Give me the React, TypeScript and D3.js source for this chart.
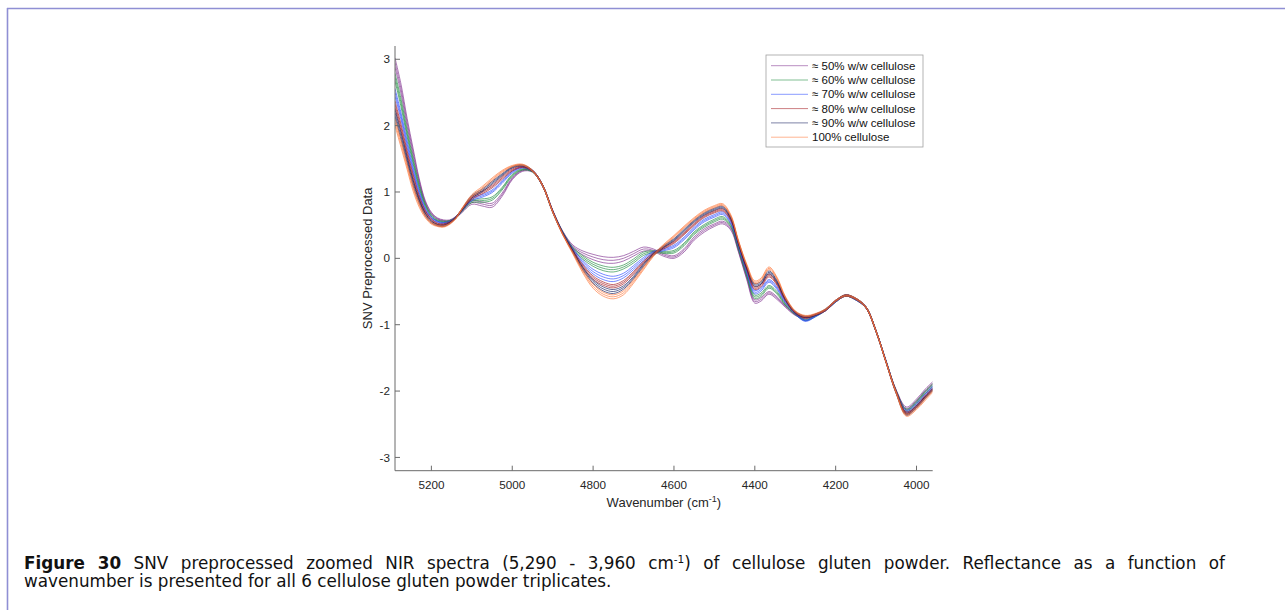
import React, { useLayoutEffect, useRef, useState } from 'react';
import * as d3 from 'd3';

const WAVENUMBERS = [5290, 5275, 5260, 5245, 5230, 5215, 5200, 5185, 5170, 5155,
  5140, 5125, 5100, 5075, 5050, 5025, 5000, 4975, 4950, 4925,
  4900, 4875, 4850, 4825, 4800, 4775, 4750, 4725, 4700, 4675,
  4650, 4625, 4600, 4575, 4550, 4525, 4500, 4480, 4460, 4440,
  4420, 4400, 4385, 4365, 4345, 4325, 4300, 4275, 4250, 4225,
  4200, 4175, 4150, 4125, 4100, 4075, 4050, 4025, 4000, 3980, 3960];

const MEAN_50 = [2.95, 2.55, 2.05, 1.6, 1.17, 0.85, 0.68, 0.60, 0.57, 0.57,
  0.62, 0.70, 0.84, 0.82, 0.80, 0.96, 1.20, 1.32, 1.31, 1.10,
  0.72, 0.40, 0.18, 0.08, 0.02, -0.02, -0.03, 0.00, 0.07, 0.14,
  0.12, 0.05, 0.02, 0.12, 0.30, 0.42, 0.50, 0.54, 0.45, 0.10,
  -0.30, -0.65, -0.62, -0.52, -0.60, -0.72, -0.85, -0.90, -0.85, -0.78,
  -0.65, -0.56, -0.62, -0.74, -1.10, -1.56, -2.00, -2.26, -2.14, -2.00, -1.88];
const MEAN_60 = [2.73, 2.34, 1.88, 1.46, 1.08, 0.80, 0.64, 0.57, 0.55, 0.56,
  0.61, 0.71, 0.86, 0.87, 0.90, 1.05, 1.25, 1.34, 1.31, 1.10,
  0.71, 0.39, 0.15, 0.01, -0.09, -0.15, -0.17, -0.13, -0.04, 0.07,
  0.10, 0.09, 0.10, 0.21, 0.38, 0.49, 0.57, 0.61, 0.50, 0.14,
  -0.25, -0.58, -0.55, -0.43, -0.52, -0.69, -0.84, -0.93, -0.87, -0.78,
  -0.65, -0.56, -0.62, -0.74, -1.10, -1.56, -2.01, -2.29, -2.17, -2.03, -1.91];
const MEAN_70 = [2.50, 2.14, 1.72, 1.33, 0.99, 0.74, 0.61, 0.55, 0.53, 0.55,
  0.61, 0.72, 0.89, 0.94, 1.01, 1.15, 1.30, 1.37, 1.32, 1.10,
  0.71, 0.38, 0.13, -0.06, -0.20, -0.28, -0.31, -0.26, -0.14, -0.01,
  0.09, 0.13, 0.18, 0.30, 0.45, 0.57, 0.64, 0.68, 0.55, 0.18,
  -0.20, -0.51, -0.47, -0.34, -0.45, -0.65, -0.83, -0.94, -0.87, -0.78,
  -0.65, -0.56, -0.62, -0.74, -1.10, -1.56, -2.02, -2.31, -2.20, -2.07, -1.94];
const MEAN_80 = [2.32, 1.97, 1.58, 1.22, 0.91, 0.70, 0.58, 0.52, 0.51, 0.54,
  0.61, 0.73, 0.91, 0.99, 1.08, 1.21, 1.33, 1.38, 1.32, 1.10,
  0.71, 0.37, 0.11, -0.12, -0.29, -0.38, -0.42, -0.36, -0.22, -0.06,
  0.07, 0.16, 0.24, 0.37, 0.51, 0.63, 0.70, 0.73, 0.59, 0.21,
  -0.16, -0.45, -0.41, -0.26, -0.39, -0.62, -0.82, -0.89, -0.85, -0.78,
  -0.64, -0.56, -0.61, -0.74, -1.10, -1.57, -2.02, -2.33, -2.23, -2.09, -1.97];
const MEAN_90 = [2.19, 1.84, 1.48, 1.13, 0.86, 0.66, 0.55, 0.50, 0.49, 0.53,
  0.61, 0.73, 0.93, 1.02, 1.14, 1.26, 1.37, 1.40, 1.32, 1.10,
  0.70, 0.37, 0.10, -0.16, -0.35, -0.46, -0.50, -0.44, -0.29, -0.10,
  0.06, 0.18, 0.28, 0.42, 0.56, 0.67, 0.74, 0.77, 0.62, 0.23,
  -0.13, -0.40, -0.37, -0.21, -0.35, -0.60, -0.81, -0.88, -0.85, -0.77,
  -0.64, -0.56, -0.61, -0.74, -1.10, -1.57, -2.03, -2.35, -2.24, -2.11, -1.98];
const MEAN_100 = [2.05, 1.72, 1.38, 1.05, 0.80, 0.63, 0.53, 0.49, 0.48, 0.52,
  0.60, 0.74, 0.94, 1.06, 1.19, 1.31, 1.39, 1.41, 1.32, 1.10,
  0.70, 0.36, 0.08, -0.20, -0.42, -0.54, -0.58, -0.52, -0.35, -0.15,
  0.05, 0.20, 0.33, 0.47, 0.60, 0.71, 0.78, 0.81, 0.65, 0.25,
  -0.10, -0.36, -0.32, -0.15, -0.30, -0.58, -0.80, -0.87, -0.84, -0.77,
  -0.64, -0.56, -0.61, -0.74, -1.10, -1.57, -2.03, -2.36, -2.26, -2.13, -2.00];

// half range of the triplicates at each wavenumber
const SPREAD_50 = [0.07, 0.07, 0.06, 0.05, 0.03, 0.02, 0.015, 0.01, 0.01, 0.01,
  0.01, 0.015, 0.025, 0.03, 0.03, 0.025, 0.015, 0.01, 0.01, 0.01,
  0.01, 0.01, 0.02, 0.03, 0.04, 0.045, 0.045, 0.04, 0.035, 0.03,
  0.02, 0.02, 0.02, 0.025, 0.025, 0.025, 0.02, 0.02, 0.02, 0.015,
  0.02, 0.025, 0.025, 0.02, 0.02, 0.015, 0.01, 0.01, 0.01, 0.01,
  0.01, 0.01, 0.01, 0.01, 0.01, 0.01, 0.015, 0.02, 0.02, 0.02, 0.02];
const SPREAD_60 = [0.06, 0.06, 0.05, 0.04, 0.03, 0.02, 0.015, 0.01, 0.01, 0.01,
  0.01, 0.01, 0.02, 0.025, 0.025, 0.02, 0.015, 0.01, 0.01, 0.01,
  0.01, 0.01, 0.015, 0.025, 0.03, 0.035, 0.035, 0.03, 0.03, 0.025,
  0.015, 0.015, 0.02, 0.02, 0.02, 0.02, 0.02, 0.02, 0.02, 0.015,
  0.02, 0.025, 0.025, 0.02, 0.02, 0.015, 0.01, 0.01, 0.01, 0.01,
  0.01, 0.01, 0.01, 0.01, 0.01, 0.01, 0.015, 0.02, 0.02, 0.02, 0.02];
const SPREAD_70 = [0.06, 0.05, 0.05, 0.04, 0.03, 0.02, 0.015, 0.01, 0.01, 0.01,
  0.01, 0.01, 0.02, 0.02, 0.02, 0.02, 0.015, 0.01, 0.01, 0.01,
  0.01, 0.01, 0.015, 0.025, 0.035, 0.04, 0.04, 0.035, 0.03, 0.025,
  0.015, 0.015, 0.02, 0.02, 0.02, 0.02, 0.02, 0.02, 0.02, 0.015,
  0.02, 0.025, 0.025, 0.02, 0.02, 0.015, 0.01, 0.01, 0.01, 0.01,
  0.01, 0.01, 0.01, 0.01, 0.01, 0.01, 0.015, 0.02, 0.02, 0.02, 0.02];
const SPREAD_80 = [0.05, 0.05, 0.04, 0.04, 0.03, 0.02, 0.015, 0.01, 0.01, 0.01,
  0.01, 0.01, 0.02, 0.02, 0.02, 0.02, 0.015, 0.01, 0.01, 0.01,
  0.01, 0.01, 0.015, 0.02, 0.025, 0.025, 0.025, 0.025, 0.02, 0.02,
  0.015, 0.015, 0.015, 0.015, 0.015, 0.015, 0.015, 0.015, 0.015, 0.015,
  0.015, 0.02, 0.02, 0.02, 0.015, 0.015, 0.01, 0.01, 0.01, 0.01,
  0.01, 0.01, 0.01, 0.01, 0.01, 0.01, 0.015, 0.015, 0.015, 0.015, 0.015];
const SPREAD_90 = [0.05, 0.05, 0.04, 0.04, 0.03, 0.02, 0.015, 0.01, 0.01, 0.01,
  0.01, 0.01, 0.02, 0.02, 0.02, 0.015, 0.01, 0.01, 0.01, 0.01,
  0.01, 0.01, 0.015, 0.02, 0.025, 0.03, 0.03, 0.025, 0.02, 0.02,
  0.015, 0.015, 0.015, 0.015, 0.015, 0.015, 0.015, 0.015, 0.015, 0.015,
  0.015, 0.02, 0.02, 0.02, 0.015, 0.015, 0.01, 0.01, 0.01, 0.01,
  0.01, 0.01, 0.01, 0.01, 0.01, 0.01, 0.015, 0.015, 0.015, 0.015, 0.015];
const SPREAD_100 = [0.05, 0.05, 0.04, 0.04, 0.03, 0.02, 0.015, 0.01, 0.01, 0.01,
  0.01, 0.01, 0.02, 0.02, 0.02, 0.015, 0.01, 0.01, 0.01, 0.01,
  0.01, 0.01, 0.015, 0.025, 0.03, 0.03, 0.03, 0.03, 0.025, 0.02,
  0.015, 0.015, 0.015, 0.015, 0.015, 0.015, 0.015, 0.015, 0.015, 0.015,
  0.015, 0.02, 0.02, 0.02, 0.015, 0.015, 0.01, 0.01, 0.01, 0.01,
  0.01, 0.01, 0.01, 0.01, 0.01, 0.01, 0.015, 0.02, 0.02, 0.02, 0.02];

const GROUP_LABELS = ['\u2248 50% w/w cellulose', '\u2248 60% w/w cellulose', '\u2248 70% w/w cellulose',
  '\u2248 80% w/w cellulose', '\u2248 90% w/w cellulose', '100% cellulose'];
const GROUP_MEANS = [MEAN_50, MEAN_60, MEAN_70, MEAN_80, MEAN_90, MEAN_100];
const GROUP_SPREADS = [SPREAD_50, SPREAD_60, SPREAD_70, SPREAD_80, SPREAD_90, SPREAD_100];
const GROUP_COLORS = ['#7E2F8E', '#1C8A3C', '#2A48FF', '#A3161C', '#141E5C', '#FF7636'];
const REPLICATES = [1, 0, -1];

const X_TICKS = [5200, 5000, 4800, 4600, 4400, 4200, 4000];
const Y_TICKS = [-3, -2, -1, 0, 1, 2, 3];

const AXIS_FONT = '"Liberation Sans", Arial, Helvetica, sans-serif';
const CAPTION_FONT = '"DejaVu Sans", sans-serif';
const CAPTION_LINE1_WIDTH = 1202;
const CAPTION_LINE1_SPACES = 19;

export default function App() {
  const left = 395, right = 932.7, top = 46, bottom = 470.7;
  const x = d3.scaleLinear().domain([5290, 3960]).range([left, right]);
  const y = d3.scaleLinear().domain([-3.2, 3.2]).range([bottom, top]);
  const line = d3.line<[number, number]>()
    .x(d => x(d[0]))
    .y(d => y(d[1]))
    .curve(d3.curveCatmullRom.alpha(0.5));

  const line1Ref = useRef<SVGTextElement>(null);
  const [wordSpacing, setWordSpacing] = useState(0);
  useLayoutEffect(() => {
    const el = line1Ref.current;
    if (el && wordSpacing === 0) {
      const w = el.getBBox().width;
      const ws = (CAPTION_LINE1_WIDTH - w) / CAPTION_LINE1_SPACES;
      if (ws > 0) setWordSpacing(ws);
    }
  }, [wordSpacing]);

  const paths: { d: string; color: string; key: string }[] = [];
  GROUP_MEANS.forEach((means, g) => {
    REPLICATES.forEach((r, k) => {
      const pts = WAVENUMBERS.map((w, i) => [w, means[i] + r * GROUP_SPREADS[g][i]] as [number, number]);
      paths.push({ d: line(pts) || '', color: GROUP_COLORS[g], key: `${g}-${k}` });
    });
  });

  const legendX = 766, legendY = 55, legendW = 157, legendH = 92;

  return (
    <svg width={1285} height={610} style={{ position: 'absolute', left: 0, top: 0, background: '#fff' }}>
      <rect x={0} y={0} width={1285} height={610} fill="#fff" />
      <line x1={7} y1={8.5} x2={1285} y2={8.5} stroke="#8f8fd4" strokeWidth={1.6} />
      <line x1={7.5} y1={8} x2={7.5} y2={610} stroke="#8f8fd4" strokeWidth={1.6} />

      <defs>
        <clipPath id="plotclip">
          <rect x={left} y={top} width={right - left} height={bottom - top} />
        </clipPath>
      </defs>

      <g clipPath="url(#plotclip)">
        {paths.map(p => (
          <path key={p.key} d={p.d} fill="none" stroke={p.color} strokeWidth={0.9} strokeOpacity={0.72} />
        ))}
      </g>

      <line x1={left} y1={bottom} x2={right} y2={bottom} stroke="#6b6b6b" strokeWidth={1} />
      <line x1={left} y1={top} x2={left} y2={bottom} stroke="#6b6b6b" strokeWidth={1} />
      {X_TICKS.map(t => (
        <g key={t}>
          <line x1={x(t)} x2={x(t)} y1={bottom} y2={bottom - 5} stroke="#6b6b6b" />
          <text x={x(t)} y={489} textAnchor="middle" fontFamily={AXIS_FONT} fontSize={11.7} fill="#262626">{t}</text>
        </g>
      ))}
      {Y_TICKS.map(t => (
        <g key={t}>
          <line x1={left} x2={left + 5} y1={y(t)} y2={y(t)} stroke="#6b6b6b" />
          <text x={390} y={y(t)} dy="0.35em" textAnchor="end" fontFamily={AXIS_FONT} fontSize={11.7} fill="#262626">{String(t)}</text>
        </g>
      ))}
      <text x={(left + right) / 2} y={507} textAnchor="middle" fontFamily={AXIS_FONT} fontSize={13} fill="#262626">
        Wavenumber (cm<tspan dy={-5} fontSize={9}>-1</tspan><tspan dy={5}>)</tspan>
      </text>
      <text transform={`translate(372, ${y(0)}) rotate(-90)`} textAnchor="middle" fontFamily={AXIS_FONT} fontSize={13} fill="#262626">
        SNV Preprocessed Data
      </text>

      <rect x={legendX} y={legendY} width={legendW} height={legendH} fill="#fff" stroke="#a0a0a0" strokeWidth={0.8} />
      {GROUP_LABELS.map((lab, i) => {
        const ly = 65.7 + i * 14.3;
        return (
          <g key={lab}>
            <line x1={771} x2={808} y1={ly} y2={ly} stroke={GROUP_COLORS[i]} strokeOpacity={0.55} strokeWidth={1} />
            <text x={812} y={ly} dy="0.35em" fontFamily={AXIS_FONT} fontSize={11.5} fill="#111">{lab}</text>
          </g>
        );
      })}

      <text ref={line1Ref} x={24} y={569} fontFamily={CAPTION_FONT} fontSize={16.8} fill="#111"
        style={{ wordSpacing: `${wordSpacing}px` }}>
        <tspan fontWeight="bold">Figure 30</tspan>
        {' SNV preprocessed zoomed NIR spectra (5,290 - 3,960 cm'}
        <tspan dy={-6} fontSize={10.5}>-1</tspan>
        <tspan dy={6}>{') of cellulose gluten powder. Reflectance as a function of'}</tspan>
      </text>
      <text x={24} y={587} fontFamily={CAPTION_FONT} fontSize={16.8} fill="#111">
        wavenumber is presented for all 6 cellulose gluten powder triplicates.
      </text>
    </svg>
  );
}
